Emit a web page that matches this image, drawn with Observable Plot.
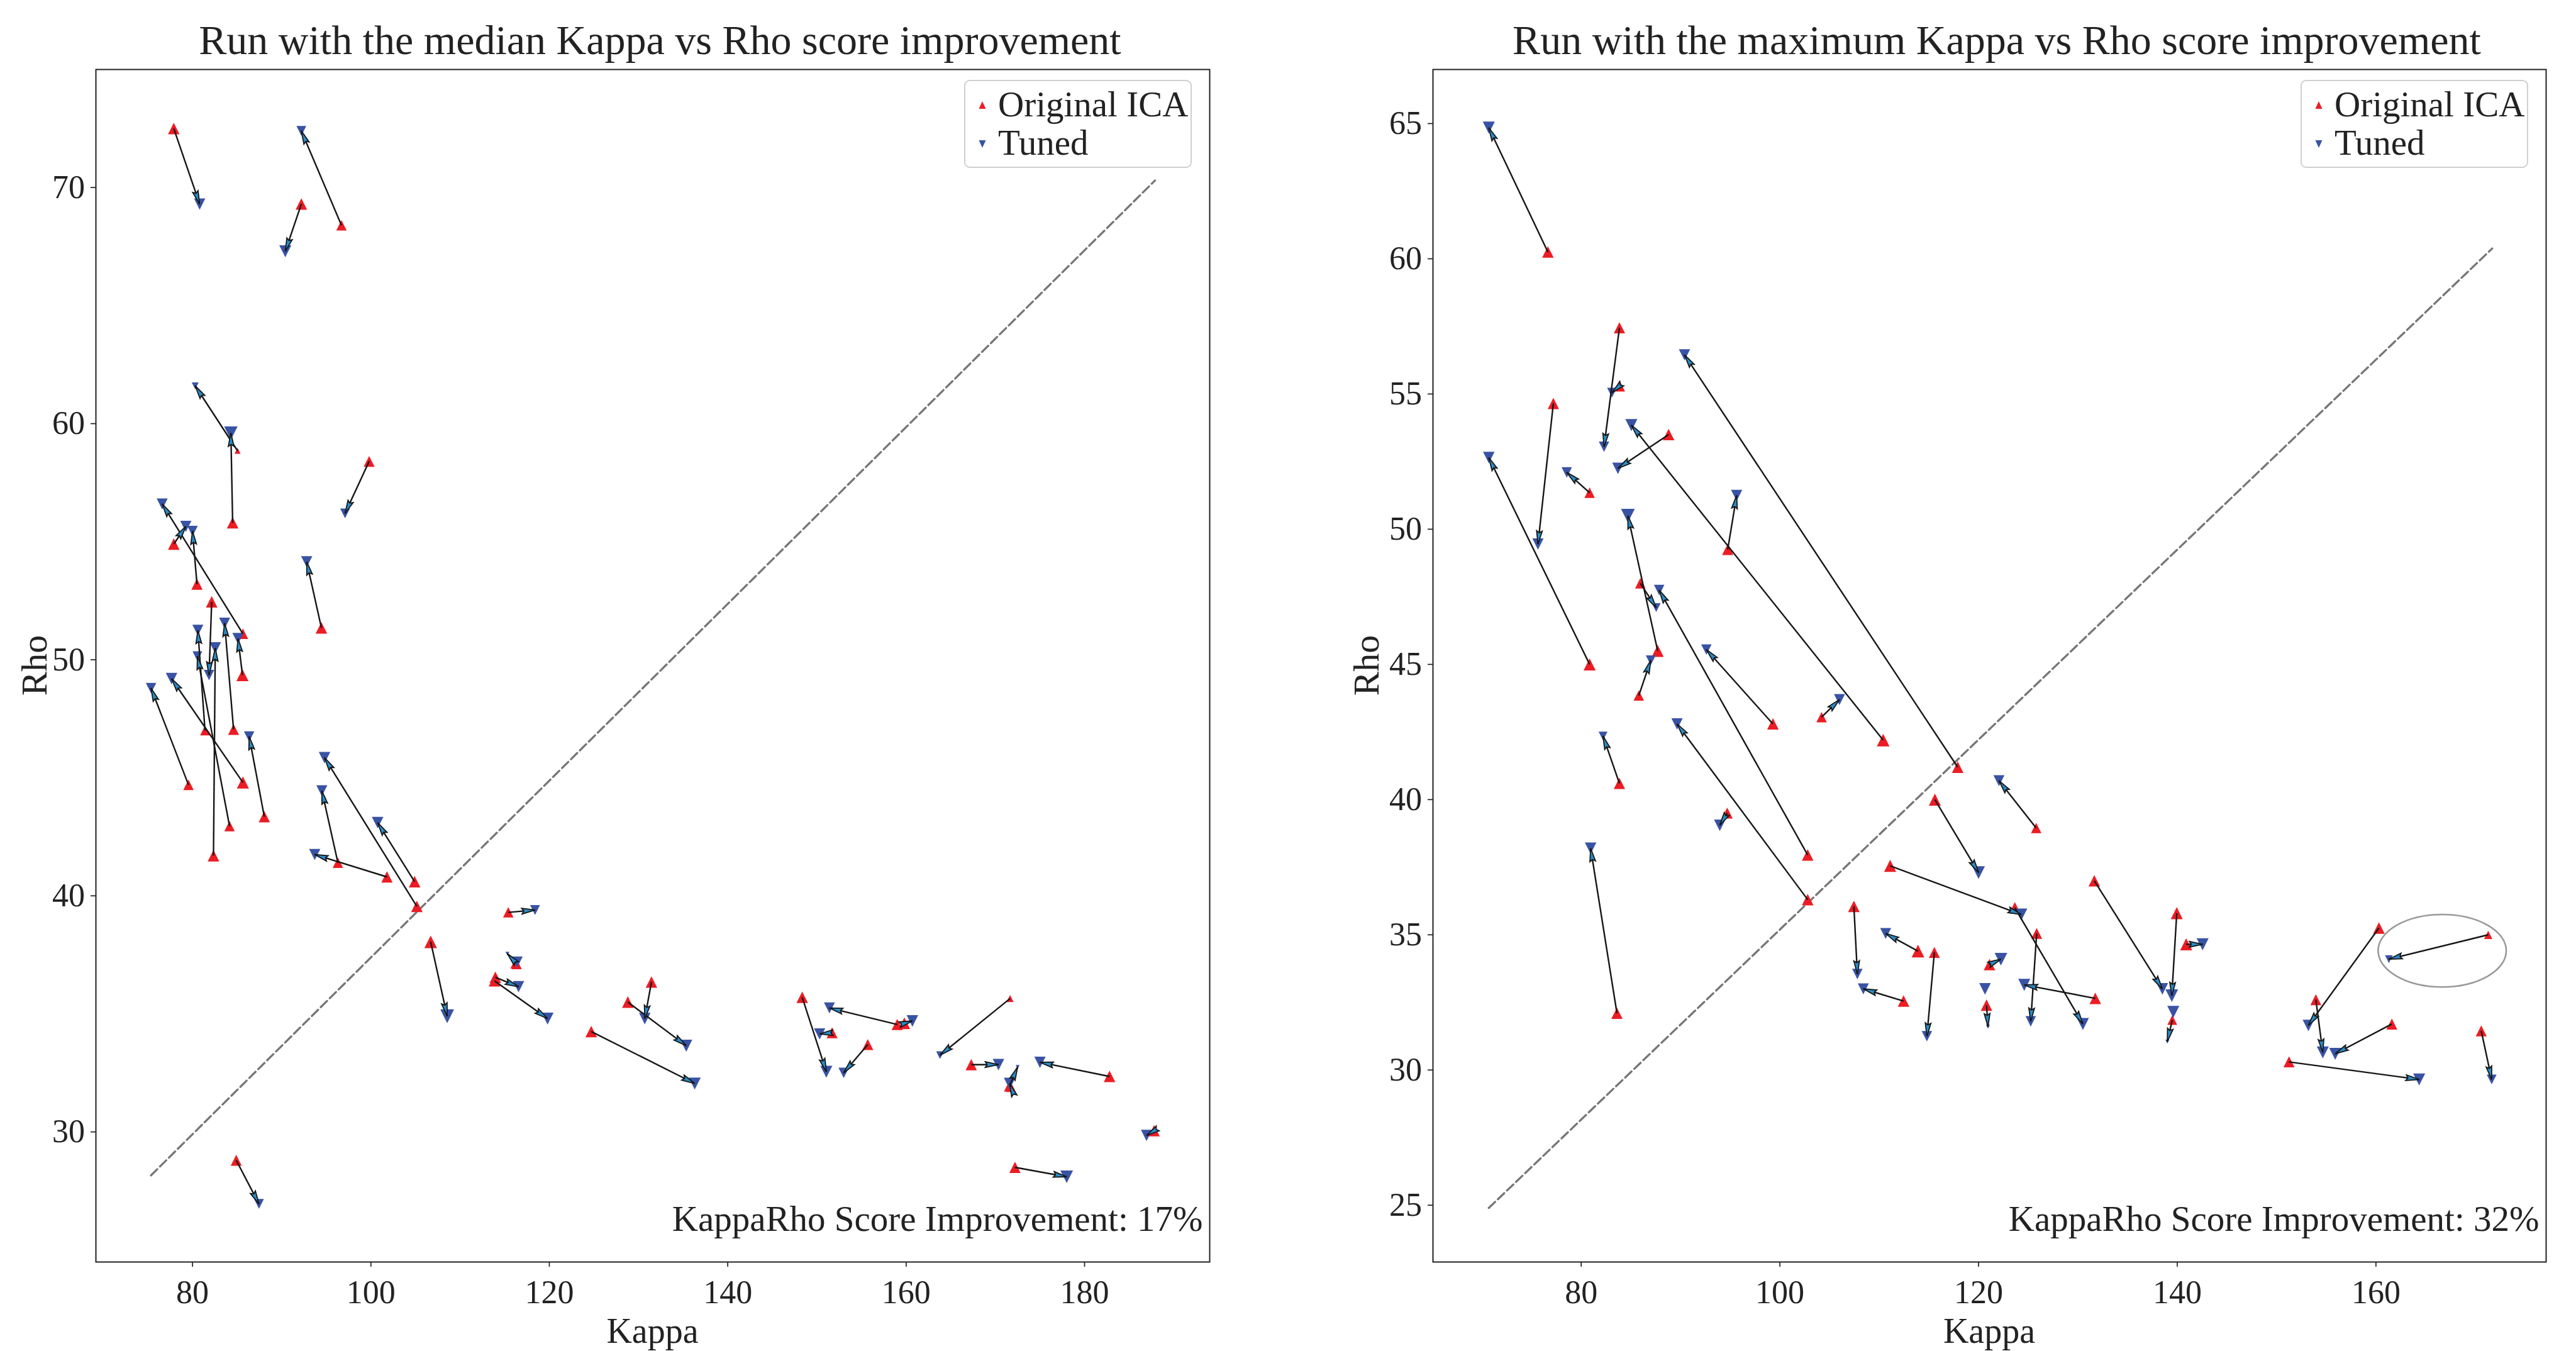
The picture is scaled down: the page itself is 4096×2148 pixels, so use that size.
<!DOCTYPE html>
<html><head><meta charset="utf-8">
<script src="https://cdn.jsdelivr.net/npm/d3@7"></script>
<script src="https://cdn.jsdelivr.net/npm/@observablehq/plot@0.6"></script>
<style>
html,body{margin:0;padding:0;background:#fff;}
#wrap{position:relative;width:4096px;height:2148px;overflow:hidden;background:#fff;}
.panel{position:absolute;top:0;}
#overlay{position:absolute;left:0;top:0;pointer-events:none;}
</style></head><body><div id="wrap"></div>
<script>
// ---------- Panel 1: run with the median improvement ----------
const medianTitle = "Run with the median Kappa vs Rho score improvement";
const medianNote = "KappaRho Score Improvement: 17%";
const medianOrigKappa = [77.9,96.7,92.2,85.05,84.5,99.8,85.65,77.9,80.5,82.15,94.45,84.6,81.4,84.15,82.35,85.6,85.65,79.55,88.05,105.15,104.9,96.3,101.8,106.7,84.9,115.4,116.25,116.35,113.95,113.85,131.45,128.8,124.7,148.35,159.0,151.7,155.7,159.8,171.65,167.3,171.6,171.75,182.8,187.8,172.2];
const medianOrigRho = [72.5,68.4,69.3,58.85,55.8,58.4,51.1,54.9,53.2,52.45,51.35,47.05,47.0,42.95,41.7,49.35,44.8,44.7,43.35,39.55,40.6,41.4,40.8,38.05,28.8,39.3,37.15,37.1,36.55,36.4,36.35,35.5,34.25,35.7,34.55,34.2,33.7,34.6,35.65,32.85,31.95,31.9,32.35,30.05,28.5];
const medianOrigWeight = [4.4,3.6,4.4,1.2,4.4,4.0,3.6,4.4,4.2,4.4,4.4,4.0,3.2,3.6,4.4,4.8,4.8,3.6,4.2,4.4,4.4,3.6,4.2,5.3,4.0,3.6,4.0,3.2,4.4,4.4,4.4,4.4,4.4,4.4,4.2,4.0,4.0,4.4,1.7,4.2,4.2,3.2,4.4,4.2,4.2];
const medianTunedKappa = [80.8,92.2,90.4,80.3,84.3,97.1,76.6,79.25,80.0,81.85,92.8,83.6,80.6,80.55,82.55,85.1,77.65,75.35,86.35,94.8,100.75,94.5,93.7,108.55,87.45,118.4,115.3,116.4,116.55,119.8,130.7,135.35,136.3,151.05,151.4,150.3,153.0,160.7,163.8,170.35,172.5,171.6,175.0,186.95,178.0];
const medianTunedRho = [69.3,72.4,67.3,61.6,59.6,56.2,56.6,55.65,55.45,49.35,54.15,51.55,51.25,50.15,50.5,50.9,49.2,48.8,46.75,45.85,43.1,44.45,41.75,34.9,26.95,39.4,37.55,37.2,36.15,34.8,34.8,33.65,32.05,32.55,35.25,34.15,32.5,34.7,33.25,32.85,32.75,32.05,32.95,29.85,28.1];
const medianTunedWeight = [4.2,3.2,4.8,1.6,6.0,3.2,4.0,4.2,3.6,3.6,4.2,4.0,4.0,3.2,4.4,4.2,4.4,3.6,3.6,4.4,4.4,4.0,4.2,6.3,3.2,3.2,0.5,4.0,4.2,4.8,4.4,4.8,4.8,4.8,4.0,4.2,3.6,4.4,2.0,4.4,0.5,4.4,4.2,4.2,5.3];
const medianDiagKappa = [75.35, 187.9];
const medianDiagRho = [28.16, 70.3];
const medianKappaTicks = [80,100,120,140,160,180];
const medianRhoTicks = [30,40,50,60,70];
const medianKappaDomain = [69.17, 194.03];
const medianRhoDomain = [24.49, 75.0];

// ---------- Panel 2: run with the maximum improvement ----------
const maxTitle = "Run with the maximum Kappa vs Rho score improvement";
const maxNote = "KappaRho Score Improvement: 32%";
const maxOrigKappa = [76.65,83.85,83.85,77.2,87.7,85.95,102.8,99.3,102.8,80.85,83.85,85.8,94.75,94.7,83.6,110.4,117.9,80.85,88.8,104.2,125.8,115.6,111.1,123.65,131.65,107.45,113.9,112.45,115.55,121.1,120.8,120.65,125.85,131.75,139.95,140.9,139.5,139.6,160.3,153.95,161.6,151.25,170.6,171.3];
const maxOrigRho = [60.25,57.45,55.3,54.65,45.5,48.0,37.95,42.8,36.3,45.0,40.6,43.85,49.25,39.5,32.1,42.2,41.2,51.35,53.5,43.05,38.95,40.0,37.55,36.0,37.0,36.05,34.4,32.55,34.35,33.9,32.4,33.0,35.05,32.65,35.8,34.65,31.85,32.15,35.25,32.6,31.7,30.3,31.45,35.0];
const maxOrigWeight = [4.4,4.2,4.2,4.2,4.8,3.6,4.4,4.4,4.4,4.8,4.2,3.6,4.2,4.0,4.2,5.3,4.4,3.6,4.4,3.6,3.6,4.8,4.8,4.4,4.4,4.4,5.3,4.4,4.0,4.4,4.4,0.5,4.0,4.4,4.8,4.8,3.2,0.5,4.4,4.0,4.0,4.0,4.0,2.3];
const maxTunedKappa = [70.7,82.3,83.1,75.65,84.7,87.55,87.85,92.6,89.65,70.7,82.2,87.0,95.65,93.95,80.95,85.05,90.4,78.55,83.7,106.0,122.05,120.0,124.3,130.5,138.5,107.8,110.65,108.4,114.8,122.25,120.95,120.65,125.25,124.6,139.45,142.55,139.0,139.6,153.2,154.65,155.9,164.35,171.65,161.3];
const maxTunedRho = [64.85,53.05,55.05,49.45,50.5,47.1,47.75,45.55,42.8,52.65,42.35,45.15,51.25,39.05,38.2,53.85,56.45,52.1,52.25,43.7,40.7,37.3,35.75,31.7,33.0,33.55,35.05,33.0,31.25,34.1,31.6,33.0,31.8,33.15,32.75,34.65,31.05,32.15,31.65,30.65,30.6,29.65,29.65,34.1];
const maxTunedWeight = [4.8,3.6,3.2,4.2,6.3,2.6,3.6,3.6,4.2,4.4,2.6,3.2,4.2,4.4,4.4,4.8,4.2,3.6,4.4,4.0,4.0,5.3,4.8,4.8,4.4,3.6,4.0,4.0,3.6,5.3,0.5,4.4,3.6,4.8,5.3,4.8,0.5,4.8,4.4,4.8,4.8,4.8,3.2,2.0];
const maxDiagKappa = [70.7, 171.7];
const maxDiagRho = [24.9, 60.38];
const maxKappaTicks = [80,100,120,140,160];
const maxRhoTicks = [25,30,35,40,45,50,55,60,65];
const maxKappaDomain = [65.08, 177.13];
const maxRhoDomain = [22.9, 67.0];
// highlighted component (ellipse): centre and half-widths in data units
const highlightKappa = [166.7, 6.45];
const highlightRho = [34.4, 1.34];

const legendLabels = ["Original ICA", "Tuned"];
const axisLabels = ["Kappa", "Rho"];

// ---------- drawing ----------
const RED = "#ec1c24", BLUE = "#3953a4", INK = "#161616";
const FONT = "'Liberation Serif', 'DejaVu Serif', serif";
const upTri = {draw(ctx, size){ const a = Math.sqrt(size/Math.PI); ctx.moveTo(0,-a); ctx.lineTo(a,a); ctx.lineTo(-a,a); ctx.closePath(); }};
const downTri = {draw(ctx, size){ const a = Math.sqrt(size/Math.PI); ctx.moveTo(0,a); ctx.lineTo(a,-a); ctx.lineTo(-a,-a); ctx.closePath(); }};
const headSym = {draw(ctx){ ctx.moveTo(0,0); ctx.lineTo(4.5,21); ctx.lineTo(0,18); ctx.lineTo(-4.5,21); ctx.closePath(); }};

const wrap = document.getElementById("wrap");

function makePanel(cfg){
  const rows = cfg.ok.map((_, i) => ({ok: cfg.ok[i], or: cfg.or[i], ow: cfg.ow[i], tk: cfg.tk[i], tr: cfg.tr[i], tw: cfg.tw[i]}));
  const moved = rows.filter(d => Math.abs(d.tk - d.ok) + Math.abs(d.tr - d.or) > 0.3);
  const diag = cfg.dk.map((k, i) => ({k, r: cfg.dr[i]}));
  const base = {
    width: 2048, height: 2148,
    marginLeft: cfg.ml, marginRight: cfg.mr, marginTop: 110, marginBottom: 142,
    x: {domain: cfg.xd}, y: {domain: cfg.yd},
    r: {type: "sqrt", domain: [0, 9], range: [0, 13.1]},
    style: {fontFamily: FONT, fontSize: "52px", color: "#222", background: "transparent", overflow: "visible"}
  };
  const probe = Plot.plot({...base, marks: [Plot.dot(rows, {x: "ok", y: "or"})]});
  const sx = probe.scale("x"), sy = probe.scale("y");
  moved.forEach(d => {
    const dx = sx.apply(d.tk) - sx.apply(d.ok), dy = sy.apply(d.tr) - sy.apply(d.or);
    d.angle = Math.atan2(dx, -dy) * 180 / Math.PI;
  });
  const chart = Plot.plot({...base, marks: [
    Plot.line(diag, {x: "k", y: "r", stroke: "#777777", strokeWidth: 3.3, strokeDasharray: "14,6"}),
    Plot.dot(rows, {x: "ok", y: "or", r: "ow", symbol: upTri, fill: RED, sort: null}),
    Plot.dot(rows, {x: "tk", y: "tr", r: "tw", symbol: downTri, fill: BLUE, sort: null}),
    Plot.link(moved, {x1: "ok", y1: "or", x2: "tk", y2: "tr", stroke: INK, strokeWidth: 2.4}),
    Plot.dot(moved, {x: "tk", y: "tr", r: 5, symbol: headSym, rotate: "angle", fill: "#2a8dc8", stroke: INK, strokeWidth: 1.8}),
    Plot.text([cfg.note], {frameAnchor: "bottom-right", textAnchor: "end", dx: -11, dy: -50, fontSize: 57, fill: "#222"}),
    Plot.frame({stroke: "#222", strokeWidth: 2}),
    Plot.axisX(cfg.xt, {tickSize: 8, tickPadding: 21, label: null, strokeWidth: 1.7}),
    Plot.axisY(cfg.yt, {tickSize: 8, tickPadding: 9.5, label: null, strokeWidth: 1.7})
  ]});
  if (cfg.hk) {
    const X = chart.scale("x"), Y = chart.scale("y");
    d3.select(chart).append("ellipse")
      .attr("cx", X.apply(cfg.hk[0])).attr("cy", Y.apply(cfg.hr[0]))
      .attr("rx", Math.abs(X.apply(cfg.hk[0] + cfg.hk[1]) - X.apply(cfg.hk[0])))
      .attr("ry", Math.abs(Y.apply(cfg.hr[0] + cfg.hr[1]) - Y.apply(cfg.hr[0])))
      .attr("fill", "none").attr("stroke", "#999").attr("stroke-width", 2.6);
  }
  const div = document.createElement("div");
  div.className = "panel";
  div.style.left = cfg.left + "px";
  div.appendChild(chart);
  wrap.appendChild(div);
  return {x0: cfg.left + cfg.ml, x1: cfg.left + 2048 - cfg.mr};
}

const p1 = makePanel({left: 0, ml: 152, mr: 125, ok: medianOrigKappa, or: medianOrigRho, ow: medianOrigWeight,
  tk: medianTunedKappa, tr: medianTunedRho, tw: medianTunedWeight, dk: medianDiagKappa, dr: medianDiagRho,
  xd: medianKappaDomain, yd: medianRhoDomain, xt: medianKappaTicks, yt: medianRhoTicks, note: medianNote});
const p2 = makePanel({left: 2048, ml: 230, mr: 48, ok: maxOrigKappa, or: maxOrigRho, ow: maxOrigWeight,
  tk: maxTunedKappa, tr: maxTunedRho, tw: maxTunedWeight, dk: maxDiagKappa, dr: maxDiagRho,
  xd: maxKappaDomain, yd: maxRhoDomain, xt: maxKappaTicks, yt: maxRhoTicks, note: maxNote,
  hk: highlightKappa, hr: highlightRho});

// overlay: titles, axis labels, legends
const ov = d3.select(wrap).append("svg").attr("id", "overlay").attr("width", 4096).attr("height", 2148)
  .style("font-family", FONT).attr("fill", "#222");
[[p1, medianTitle, 0], [p2, maxTitle, -8]].forEach(([p, title, rhoShift]) => {
  const cx = (p.x0 + p.x1) / 2;
  ov.append("text").attr("x", cx + 12).attr("y", 85.6).attr("text-anchor", "middle").attr("font-size", 66).text(title);
  ov.append("text").attr("x", cx).attr("y", 2135).attr("text-anchor", "middle").attr("font-size", 56).text(axisLabels[0]);
  ov.append("text").attr("transform", `translate(${p.x0 - 78 + rhoShift},1058) rotate(-90)`).attr("text-anchor", "middle").attr("font-size", 58).text(axisLabels[1]);
  const lx = p.x1 - 29 - 360, ly = 128;
  const g = ov.append("g").attr("transform", `translate(${lx},${ly})`);
  g.append("rect").attr("width", 360).attr("height", 138).attr("rx", 8).attr("fill", "white").attr("fill-opacity", 0.85)
    .attr("stroke", "#cfcfcf").attr("stroke-width", 2);
  g.append("path").attr("d", "M28,33 L33.5,45 L22.5,45 Z").attr("fill", RED);
  g.append("path").attr("d", "M22.5,95 L33.5,95 L28,107 Z").attr("fill", BLUE);
  g.append("text").attr("x", 53).attr("y", 57).attr("font-size", 57).text(legendLabels[0]);
  g.append("text").attr("x", 53).attr("y", 118).attr("font-size", 57).text(legendLabels[1]);
});
</script></body></html>
